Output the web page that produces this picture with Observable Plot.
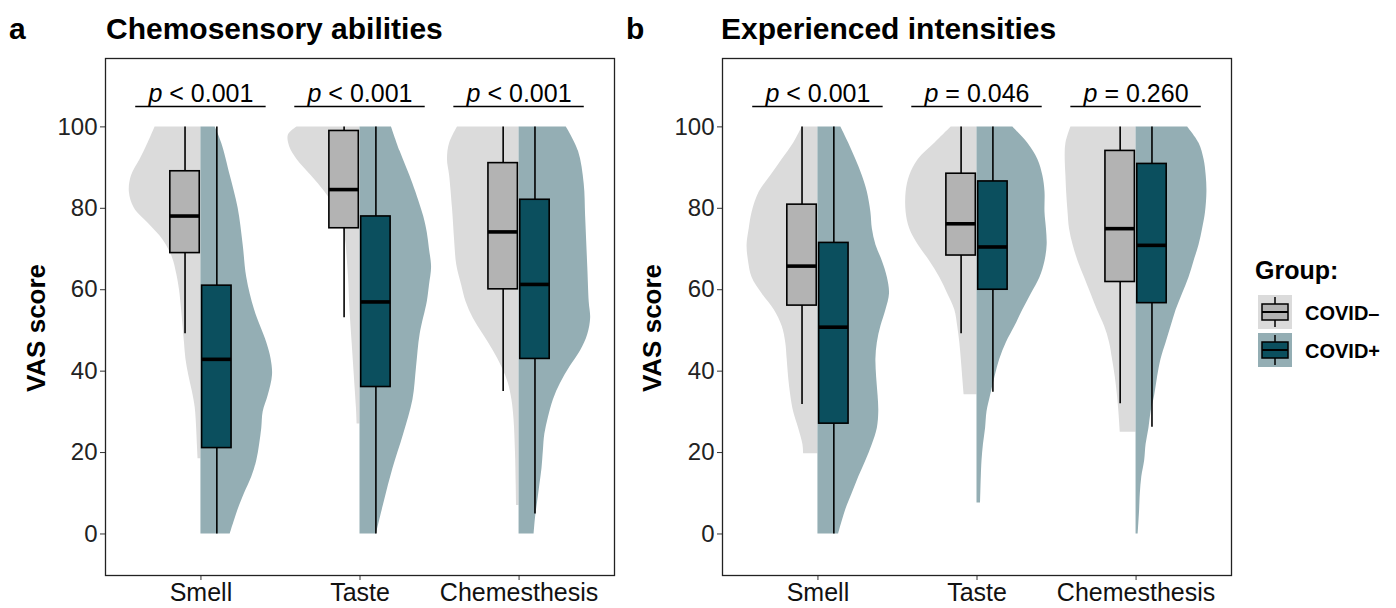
<!DOCTYPE html>
<html><head><meta charset="utf-8">
<script src="https://cdn.jsdelivr.net/npm/d3@7"></script>
<script src="https://cdn.jsdelivr.net/npm/@observablehq/plot@0.6"></script>
<style>
body{margin:0;background:#fff;font-family:"Liberation Sans",Arial,sans-serif;}
#root{position:relative;width:1396px;height:608px;overflow:hidden;background:#fff;}
.abs{position:absolute;white-space:nowrap;color:#000;}
.panel{position:absolute;top:0;}
.tag{font-weight:bold;font-size:30px;}
.ttl{font-weight:bold;font-size:30px;}
.ylab{font-weight:bold;font-size:26px;transform:translate(-50%,-50%) rotate(-90deg);}
</style></head><body><div id="root"></div>
<script>
// ---------- data ----------
const categories = ["Smell", "Taste", "Chemesthesis"];
const groups = ["COVID–", "COVID+"];
const yTicks = [0, 20, 40, 60, 80, 100];
const pLabelsAbilities = ["p < 0.001", "p < 0.001", "p < 0.001"];
const pLabelsIntensities = ["p < 0.001", "p = 0.046", "p = 0.260"];

// box stats per category: [lower whisker, q1, median, q3, upper whisker]
const boxAbilitiesNeg = [[49.2, 69.0, 78.1, 89.1, 100], [53.1, 75.1, 84.6, 99.0, 100], [35.0, 60.1, 74.2, 91.1, 100]];
const boxAbilitiesPos = [[0, 21.1, 42.9, 61.0, 100], [0, 36.1, 57.0, 78.0, 100], [4.9, 43.0, 61.3, 82.1, 100]];
const boxIntensitiesNeg = [[31.8, 56.1, 65.8, 80.9, 100], [49.2, 68.4, 76.2, 88.5, 100], [32.0, 61.9, 75.0, 94.1, 100]];
const boxIntensitiesPos = [[0, 27.1, 50.8, 71.5, 100], [34.8, 60.0, 70.5, 86.6, 100], [26.2, 56.7, 70.9, 90.9, 100]];

// violin density profiles: [score, relative density (max = 1)]
const densAbilitiesSmellNeg = [[100,.64],[96,.74],[92,.85],[88,.97],[84,1],[80,.93],[76,.72],[72,.52],[68,.4],[64,.34],[60,.3],[55,.27],[51,.25],[47,.23],[43,.21],[39,.17],[35,.12],[31,.08],[26,.06],[22,.05],[18.5,.04]];
const densAbilitiesSmellPos = [[100,.2],[96,.29],[88,.41],[80,.52],[71,.59],[63,.64],[55,.75],[47,.92],[43,.98],[39,1],[34,.94],[30,.87],[26,.85],[22,.82],[18,.78],[14,.71],[10,.61],[6,.52],[0,.41]];
const densAbilitiesTasteNeg = [[100,.88],[98,1],[95,.98],[92,.88],[88,.68],[84,.49],[80,.34],[76,.25],[72,.2],[68,.18],[63,.16],[55,.14],[47,.11],[39,.08],[31,.05],[27,.04]];
const densAbilitiesTastePos = [[100,.44],[94,.56],[86,.74],[78,.89],[74,.94],[70,.97],[65.5,1],[61,.97],[57,.94],[49,.84],[41,.79],[33,.74],[24.5,.61],[16,.46],[8,.34],[0,.23]];
const densAbilitiesChemNeg = [[100,.86],[96,.97],[92,1],[88,.97],[80,.93],[72,.9],[66,.87],[61,.8],[57,.74],[53,.64],[49,.5],[45,.36],[41,.24],[37,.15],[33,.1],[28,.07],[20,.05],[12,.04],[7,.035]];
const densAbilitiesChemPos = [[100,.66],[94,.83],[86,.91],[78,.93],[65.5,.96],[57,.98],[53,1],[49,.96],[45,.86],[41,.71],[37,.58],[33,.48],[28.6,.41],[24.5,.36],[20.5,.34],[16,.32],[12,.29],[8,.26],[4,.23],[0,.21]];
const densIntensitiesSmellNeg = [[100,.22],[96,.34],[92,.5],[88,.66],[84,.82],[79,.92],[75,.96],[71,.99],[67,.97],[63,.92],[59,.78],[55,.61],[51,.5],[47,.45],[43,.43],[38.5,.41],[34,.38],[30,.34],[26,.27],[22,.21],[19.7,.2]];
const densIntensitiesSmellPos = [[100,.32],[96,.43],[92,.53],[88,.62],[84,.69],[79,.74],[75,.76],[71,.81],[67,.9],[63,.97],[59,1],[55,.95],[51,.88],[47,.83],[43,.81],[38.5,.82],[34,.84],[30,.85],[26,.83],[22,.76],[18,.67],[14,.57],[10,.48],[6,.39],[0,.29]];
const densIntensitiesTasteNeg = [[100,.36],[96,.59],[92,.82],[88,.94],[84,.99],[79,.99],[75,.94],[71,.82],[67,.66],[63,.52],[59,.41],[55,.31],[51,.27],[47,.24],[43,.22],[38.5,.2],[34.2,.18]];
const densIntensitiesTastePos = [[100,.5],[96,.71],[92,.85],[88,.92],[84,.95],[79,.95],[75,.97],[71,.98],[67,.95],[63,.88],[59,.76],[55,.64],[51,.53],[47,.41],[43,.32],[38.5,.25],[34,.19],[30,.14],[26,.12],[22,.09],[18,.07],[14,.06],[7.6,.05]];
const densIntensitiesChemNeg = [[100,.91],[96,.98],[92,.99],[88,.98],[84,.97],[79,.95],[75,.93],[71,.88],[67,.81],[63,.72],[59,.63],[55,.54],[51,.44],[47,.37],[43,.33],[38.5,.29],[34,.26],[30,.24],[25,.22]];
const densIntensitiesChemPos = [[100,.72],[96,.88],[92,.95],[88,.98],[84,.99],[79,.97],[75,.93],[71,.88],[67,.81],[63,.74],[59,.65],[55,.56],[51,.49],[47,.42],[43,.35],[38.5,.3],[34,.26],[30,.21],[26,.18],[22,.14],[18,.12],[14,.08],[10,.06],[6,.05],[0,.03]];

// ---------- styling ----------
const colors = {
  negViolin: "#dbdbdb", negBox: "#b3b3b3",
  posViolin: "#94aeb4", posBox: "#0b4f5e"
};
const halfViolin = 0.45, boxOffset = 0.1, boxWidth = 0.185, bracketY = 105, bracketHalf = 0.41;

function buildPanel(densNeg, densPos, boxNeg, boxPos, pLabels, marginLeft, marginRight) {
  const vNeg = densNeg.flatMap((arr, i) => arr.map(([s, w]) => ({cat: i + 1, s, w})));
  const vPos = densPos.flatMap((arr, i) => arr.map(([s, w]) => ({cat: i + 1, s, w})));
  const bx = (rows, off) => rows.map(([lo, q1, med, q3, hi], i) => ({c: i + 1 + off, lo, q1, med, q3, hi}));
  const bNeg = bx(boxNeg, -boxOffset), bPos = bx(boxPos, boxOffset);
  const pRows = pLabels.map((label, i) => ({cat: i + 1, label}));
  const boxMarks = (rows, fill) => [
    Plot.ruleX(rows, {x: "c", y1: "q3", y2: "hi", stroke: "#000", strokeWidth: 1.6}),
    Plot.ruleX(rows, {x: "c", y1: "lo", y2: "q1", stroke: "#000", strokeWidth: 1.6}),
    Plot.rect(rows, {x1: d => d.c - boxWidth / 2, x2: d => d.c + boxWidth / 2, y1: "q1", y2: "q3", fill, stroke: "#000", strokeWidth: 1.6}),
    Plot.ruleY(rows, {y: "med", x1: d => d.c - boxWidth / 2, x2: d => d.c + boxWidth / 2, stroke: "#000", strokeWidth: 3.6})
  ];
  const svg = Plot.plot({
    width: 620, height: 608,
    marginTop: 58, marginBottom: 33, marginLeft, marginRight,
    style: {fontFamily: "Liberation Sans, Arial, sans-serif", color: "#222", background: "transparent", overflow: "visible"},
    x: {type: "linear", domain: [0.4, 3.6]},
    y: {domain: [-10.2, 116.8]},
    marks: [
      Plot.areaX(vNeg, {y: "s", x1: d => d.cat - d.w * halfViolin, x2: "cat", z: "cat", fill: colors.negViolin, curve: "catmull-rom"}),
      Plot.areaX(vPos, {y: "s", x1: "cat", x2: d => d.cat + d.w * halfViolin, z: "cat", fill: colors.posViolin, curve: "catmull-rom"}),
      ...boxMarks(bNeg, colors.negBox),
      ...boxMarks(bPos, colors.posBox),
      Plot.ruleY(pRows, {y: () => bracketY, x1: d => d.cat - bracketHalf, x2: d => d.cat + bracketHalf, stroke: "#000", strokeWidth: 1.6}),
      Plot.text(pRows, {x: "cat", y: () => bracketY, text: "label", dy: -5, lineAnchor: "bottom", fontSize: 25, fill: "#000", className: "pval"}),
      Plot.axisY({ticks: yTicks, tickSize: 5, tickPadding: 3, label: null, fontSize: 24, stroke: "#333", fill: "#222"}),
      Plot.axisX({ticks: [1, 2, 3], tickFormat: i => categories[i - 1], tickSize: 5, tickPadding: 3, label: null, fontSize: 25, stroke: "#333", fill: "#111"}),
      Plot.frame({stroke: "#222", strokeWidth: 1.3})
    ]
  });
  d3.select(svg).selectAll(".pval text").each(function () {
    const t = this.textContent;
    const sel = d3.select(this);
    sel.text(null);
    sel.append("tspan").attr("font-style", "italic").text(t.slice(0, 1));
    sel.append("tspan").text(t.slice(1));
  });
  return svg;
}

const root = document.getElementById("root");
function place(el, left) { el.classList.add("panel"); el.style.left = left + "px"; root.appendChild(el); }
place(buildPanel([densAbilitiesSmellNeg, densAbilitiesTasteNeg, densAbilitiesChemNeg],
                 [densAbilitiesSmellPos, densAbilitiesTastePos, densAbilitiesChemPos],
                 boxAbilitiesNeg, boxAbilitiesPos, pLabelsAbilities, 105, 6), 0);
place(buildPanel([densIntensitiesSmellNeg, densIntensitiesTasteNeg, densIntensitiesChemNeg],
                 [densIntensitiesSmellPos, densIntensitiesTastePos, densIntensitiesChemPos],
                 boxIntensitiesNeg, boxIntensitiesPos, pLabelsIntensities, 102, 9), 620);

function addText(cls, txt, left, top) {
  const d = document.createElement("div");
  d.className = "abs " + cls; d.textContent = txt;
  d.style.left = left + "px"; d.style.top = top + "px";
  root.appendChild(d); return d;
}
addText("tag", "a", 9, 12);
addText("ttl", "Chemosensory abilities", 106, 12);
addText("tag", "b", 626, 12);
addText("ttl", "Experienced intensities", 721, 12);
addText("ylab", "VAS score", 36, 328);
addText("ylab", "VAS score", 652, 328);

// legend
const leg = d3.create("svg").attr("width", 150).attr("height", 130)
  .style("position", "absolute").style("left", "1250px").style("top", "250px")
  .style("font-family", "Liberation Sans, Arial, sans-serif");
leg.append("text").attr("x", 5).attr("y", 29).attr("font-size", 25).attr("font-weight", "bold").text("Group:");
groups.forEach((g, i) => {
  const y0 = 45 + i * 38;
  const k = leg.append("g").attr("transform", `translate(8,${y0})`);
  k.append("rect").attr("width", 34).attr("height", 34).attr("fill", i ? colors.posViolin : colors.negViolin);
  k.append("line").attr("x1", 17).attr("x2", 17).attr("y1", 2).attr("y2", 32).attr("stroke", "#000").attr("stroke-width", 1.5);
  k.append("rect").attr("x", 4).attr("y", 9).attr("width", 26).attr("height", 16).attr("fill", i ? colors.posBox : colors.negBox).attr("stroke", "#000").attr("stroke-width", 1.5);
  k.append("line").attr("x1", 4).attr("x2", 30).attr("y1", 17).attr("y2", 17).attr("stroke", "#000").attr("stroke-width", 2);
  leg.append("text").attr("x", 55).attr("y", y0 + 25).attr("font-size", 20).attr("font-weight", "bold").text(g);
});
root.appendChild(leg.node());
</script></body></html>
